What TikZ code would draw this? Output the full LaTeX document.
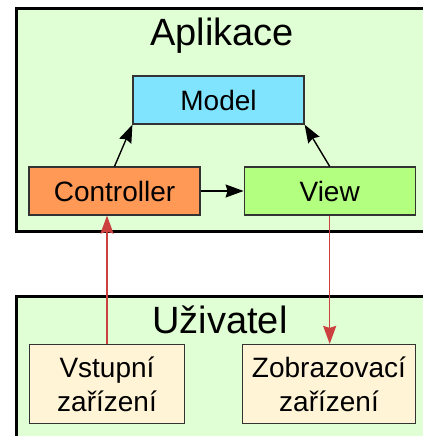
\documentclass[tikz,border=0pt]{standalone}
\usepackage{fontspec}
\setmainfont{Liberation Sans}
\usetikzlibrary{arrows.meta,positioning}
\definecolor{framebg}{HTML}{E0FFD4}
\definecolor{modelbg}{HTML}{80E4FF}
\definecolor{ctrlbg}{HTML}{FF9955}
\definecolor{viewbg}{HTML}{B3FF80}
\definecolor{devicebg}{HTML}{FFF4D6}
\definecolor{userred}{HTML}{CC4040}
\tikzset{
	frame/.style={
		rectangle, draw=black, line width=1.5pt, fill=framebg,
		inner sep=0pt, anchor=north west, minimum width=214pt, minimum height=111.5pt
	},
	%
	title/.style={
		font=\fontsize{19}{23}\selectfont, anchor=base
	},
	%
	compartment/.style={
		rectangle, draw=black!80, line width=0.6pt, inner sep=0pt,
		minimum width=85.5pt, minimum height=24pt, font=\fontsize{14}{17}\selectfont
	},
	%
	device/.style={
		compartment, fill=devicebg, minimum height=39.5pt, align=center
	},
	%
	flow/.style={
		line width=0.7pt, -{Stealth[length=9pt,width=6.5pt,inset=1pt]}
	},
	%
	userflow/.style={
		flow, draw=userred, line width=0.8pt
	}
}

\begin{document}
\begin{tikzpicture}[x=0.5pt,y=0.5pt]
\clip (0,0) rectangle (423,436);
%frames
\node (app) [frame] at (15,429) {};
\node (user) [frame] at (15,141) {};
\node (appTitle) [title] at (222,391) {Aplikace};
\node (userTitle) [title] at (220,103) {Uživatel};

%compartments
\node (model) [compartment, fill=modelbg] at (218.5,336) {Model};
\node (ctrl) [compartment, fill=ctrlbg] at (114.5,245) {Controller};
\node (view) [compartment, fill=viewbg, right=21.5pt of ctrl] {View};

%devices
\node (input) [device, minimum width=77.5pt] at (107,52) {Vstupní\\zařízení};
\node (display) [device, minimum width=86.5pt] at (329,52) {Zobrazovací\\zařízení};

%arrows
\draw[flow] (ctrl.north) to (model.south west);
\draw[flow] (view.north) to (model.south east);
\draw[flow] (ctrl) to (view);

\draw[userflow] (input.north) to (input.north |- ctrl.south);
\draw[userflow] (view.south) to (view.south |- display.north);
\end{tikzpicture}
\end{document}
